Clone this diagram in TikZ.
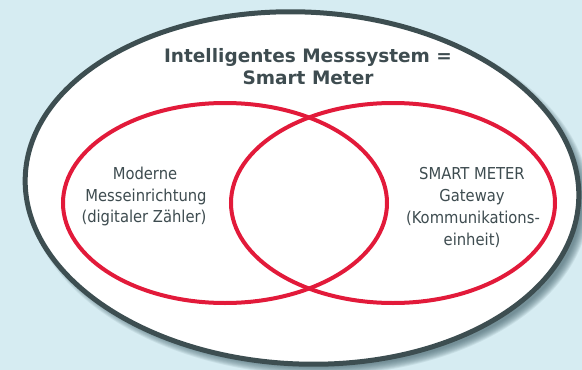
\documentclass[tikz,border=0pt]{standalone}
\usepackage{fontspec}
\setmainfont{DejaVu Sans}
\newfontfamily\condfont{DejaVu Sans Condensed}
\usetikzlibrary{positioning}
\definecolor{bgc}{RGB}{214,236,242}
\definecolor{borderc}{RGB}{61,78,81}
\definecolor{redc}{RGB}{226,26,58}
\definecolor{textc}{RGB}{62,76,80}
\definecolor{shadowc}{RGB}{70,100,110}
\tikzset{
  titletext/.style={font=\bfseries\fontsize{18.5}{22}\selectfont, text=textc, anchor=base, inner sep=0pt},
  bodytext/.style={font=\condfont\fontsize{16.4}{20}\selectfont, text=textc, anchor=base, inner sep=0pt},
  venn/.style={draw=redc, line width=4pt},
}
\begin{document}
\begin{tikzpicture}[x=1pt,y=-1pt]
\useasboundingbox (0,0) rectangle (582,370);
\fill[bgc] (0,0) rectangle (582,370);
% shadow
\foreach \i in {0,...,9}{
  \fill[shadowc, opacity=0.1, rotate around={-2.5:(308,194)}] (308,194) ellipse [x radius={282-\i*0.9}, y radius={181-\i*0.9}];
}
% outer ellipse
\draw[borderc, fill=white, line width=5pt, rotate around={-2.5:(302,188)}] (302,188) ellipse [x radius=277, y radius=176];
% venn circles
\draw[venn] (225,203) ellipse [x radius=162, y radius=100];
\draw[venn] (393,203) ellipse [x radius=162, y radius=100];
% title
\node[titletext] (t1) at (308,62) {Intelligentes Messsystem =};
\node[titletext] (t2) at (308,84) {Smart Meter};
% left
\node[bodytext] (a1) at (145,179) {Moderne};
\node[bodytext] (a2) at (146,201) {Messeinrichtung};
\node[bodytext] (a3) at (144,222) {(digitaler Zähler)};
% right
\node[bodytext] (b1) at (472,179) {SMART METER};
\node[bodytext] (b2) at (472,201) {Gateway};
\node[bodytext] (b3) at (473,223) {(Kommunikations-};
\node[bodytext] (b4) at (472,245) {einheit)};
\end{tikzpicture}
\end{document}
